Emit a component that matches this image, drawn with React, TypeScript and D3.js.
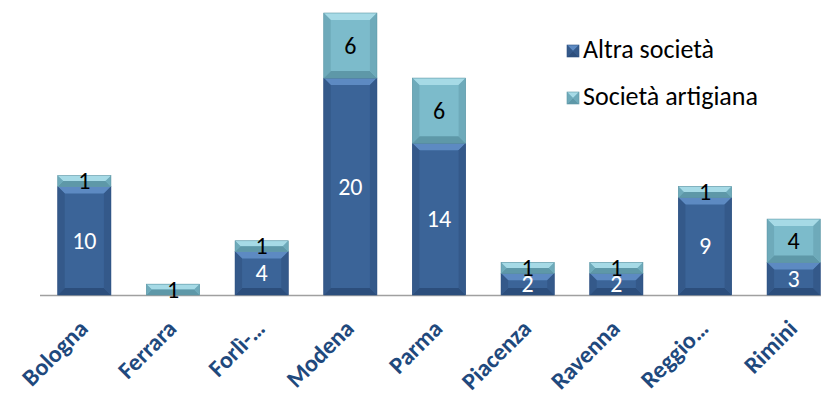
import React from "react";
import * as d3 from "d3";

const categories = ["Bologna", "Ferrara", "Forlì-…", "Modena", "Parma", "Piacenza", "Ravenna", "Reggio…", "Rimini"];
const altraSocieta = [10, 0, 4, 20, 14, 2, 2, 9, 3];
const societaArtigiana = [1, 1, 1, 6, 6, 1, 1, 1, 4];
const seriesNames = ["Altra società", "Società artigiana"];

const W = 821;
const H = 394;
const baseY = 295;
const topY = 13;

const palettes = [
  { base: "#3B6498", top: "#5D8AC2", side: "#34598A", bottom: "#2C4E7C", text: "#ffffff", stroke: "#2E5080" },
  { base: "#7CBBCB", top: "#A6DAE6", side: "#6EAABA", bottom: "#5E98A8", text: "#000000", stroke: "#5F97A6" },
];

function Bevel({ x, y, w, h, p }: { x: number; y: number; w: number; h: number; p: any }) {
  if (h <= 0) return null;
  const b = Math.min(7, h / 2, w / 2);
  const x1 = x + w, y1 = y + h;
  return (
    <g>
      <rect x={x} y={y} width={w} height={h} fill={p.base} />
      <polygon points={`${x},${y} ${x1},${y} ${x1 - b},${y + b} ${x + b},${y + b}`} fill={p.top} />
      <polygon points={`${x},${y1} ${x1},${y1} ${x1 - b},${y1 - b} ${x + b},${y1 - b}`} fill={p.bottom} />
      <polygon points={`${x},${y} ${x + b},${y + b} ${x + b},${y1 - b} ${x},${y1}`} fill={p.side} />
      <polygon points={`${x1},${y} ${x1 - b},${y + b} ${x1 - b},${y1 - b} ${x1},${y1}`} fill={p.side} />
      <rect x={x} y={y} width={w} height={h} fill="none" stroke={p.stroke} strokeWidth={0.6} />
    </g>
  );
}

export default function App() {
  const x = d3.scaleBand<string>().domain(categories).range([40, 838]).paddingInner(0.4).paddingOuter(0.2);
  const maxTotal = 26;
  const y = d3.scaleLinear().domain([0, maxTotal]).range([baseY, topY]);
  const rows = categories.map((c, i) => ({ c, a: altraSocieta[i], s: societaArtigiana[i] }));
  const stack = d3.stack<any>().keys(["a", "s"])(rows);
  const font = "Calibri, Carlito, 'Open Sans', sans-serif";

  return (
    <svg width={W} height={H} style={{ position: "absolute", left: 0, top: 0, background: "#fff" }}>
      <line x1={40} x2={W} y1={baseY + 0.5} y2={baseY + 0.5} stroke="#A0A0A0" strokeWidth={1.5} />
      {stack.map((layer, li) =>
        layer.map((d, i) => {
          const bx = x(categories[i])!;
          const bw = x.bandwidth();
          const y0 = y(d[1]);
          const h = y(d[0]) - y(d[1]);
          return (
            <g key={`${li}-${i}`}>
              <Bevel x={bx} y={y0} w={bw} h={h} p={palettes[li]} />
            </g>
          );
        })
      )}
      {stack.map((layer, li) =>
        layer.map((d, i) => {
          const v = d[1] - d[0];
          if (v <= 0) return null;
          const cx = x(categories[i])! + x.bandwidth() / 2;
          const cy = (y(d[0]) + y(d[1])) / 2;
          return (
            <text key={`t${li}-${i}`} x={cx} y={cy} dy="0.34em" textAnchor="middle" fontFamily={font} fontSize={24} fill={palettes[li].text}>
              {v}
            </text>
          );
        })
      )}
      {categories.map((c) => {
        const cx = x(c)! + x.bandwidth() / 2;
        return (
          <text key={c} transform={`translate(${cx + 5},${baseY + 35}) rotate(-45)`} textAnchor="end" fontFamily={font} fontWeight="bold" fontSize={24} fill="#1F497D">
            {c}
          </text>
        );
      })}
      {seriesNames.map((n, i) => (
        <g key={n} transform={`translate(567,${45 + i * 47})`}>
          <Bevel x={0} y={0} w={12} h={12} p={palettes[i]} />
          <text x={16} y={13} fontFamily={font} fontSize={26} fill="#000">
            {n}
          </text>
        </g>
      ))}
    </svg>
  );
}
